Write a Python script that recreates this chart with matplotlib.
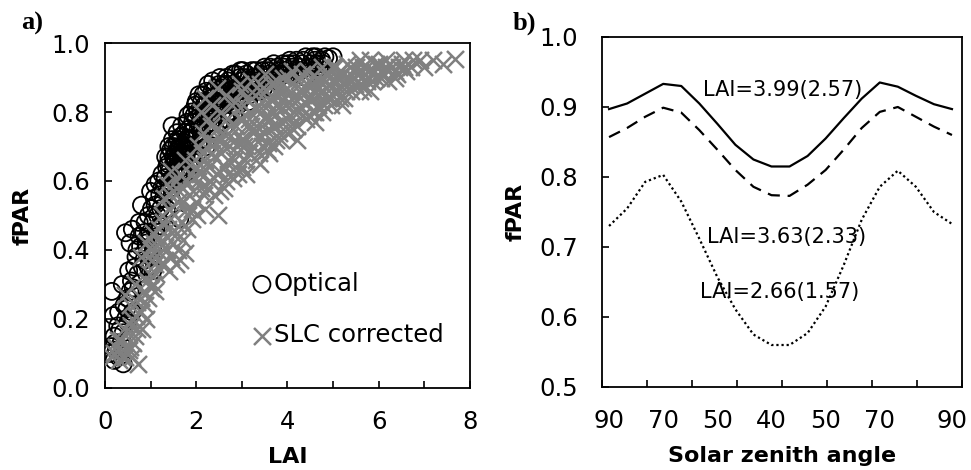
import numpy as np
import matplotlib
matplotlib.use("Agg")
import matplotlib.pyplot as plt

plt.rcParams['font.family'] = ['DejaVu Sans']

# ---- panel a) data (LAI, fPAR) ----
opt_lai = [0.10, 0.15, 0.20, 0.25, 0.30, 0.40, 0.35, 0.20, 0.28, 0.40, 0.15, 0.30, 0.42, 0.38, 0.50,
           0.55, 0.60, 0.45, 0.62, 0.50,
           0.45, 0.55, 0.65, 0.60, 0.70, 0.75, 0.80, 0.85, 0.90, 0.95, 1.00, 1.05, 0.95, 1.00, 1.05,
           1.10, 1.10, 1.15, 1.20, 1.25, 1.20, 0.85, 0.75,
           1.30, 1.35, 1.40, 1.40, 1.45, 1.47, 1.50, 1.50, 1.55, 1.55, 1.60, 1.60, 1.64, 1.65, 1.70,
           1.70, 1.75, 1.80, 1.80, 1.85, 1.90, 1.90, 1.95, 2.00, 2.00, 2.05,
           1.55, 1.62, 1.68, 1.58, 1.72, 1.65,
           2.10, 2.15, 2.20, 2.25, 2.30, 2.35, 2.40, 2.45, 2.50, 2.50, 2.60, 2.60, 2.70, 2.70, 2.80,
           2.80, 2.90, 2.95, 3.00, 3.00,
           3.10, 3.20, 3.25, 3.30, 3.40, 3.50, 3.50, 3.60, 3.70, 3.75, 3.80, 3.90, 4.00, 4.05, 4.10,
           4.20, 4.30, 4.40, 4.50, 4.60, 4.70, 4.90, 4.40, 3.90]
opt_fpar = [0.10, 0.12, 0.08, 0.11, 0.09, 0.07, 0.13, 0.15, 0.18, 0.16, 0.28, 0.22, 0.24, 0.30, 0.26,
            0.28, 0.22, 0.20, 0.29, 0.19,
            0.45, 0.42, 0.35, 0.46, 0.40, 0.48, 0.53, 0.37, 0.42, 0.35, 0.38, 0.34, 0.50, 0.57, 0.48,
            0.53, 0.59, 0.50, 0.56, 0.62, 0.47, 0.45, 0.44,
            0.58, 0.64, 0.60, 0.67, 0.55, 0.76, 0.65, 0.70, 0.62, 0.68, 0.66, 0.72, 0.49, 0.64, 0.70,
            0.67, 0.74, 0.69, 0.77, 0.72, 0.80, 0.66, 0.75, 0.78, 0.83, 0.71,
            0.66, 0.69, 0.63, 0.71, 0.66, 0.68,
            0.80, 0.85, 0.76, 0.83, 0.79, 0.86, 0.81, 0.84, 0.88, 0.77, 0.82, 0.86, 0.89, 0.80, 0.91,
            0.85, 0.87, 0.90, 0.84, 0.89,
            0.91, 0.87, 0.90, 0.92, 0.88, 0.93, 0.90, 0.91, 0.94, 0.89, 0.92, 0.94, 0.91, 0.95, 0.93,
            0.95, 0.92, 0.96, 0.94, 0.95, 0.93, 0.955, 0.90, 0.89]

opt_lai_more = [0.22, 0.33, 0.18, 0.48, 0.58, 0.52, 0.68, 0.72, 0.78, 0.88, 0.92, 0.98, 1.02, 1.08,
                1.12, 1.18, 1.22, 1.28, 1.32, 1.38, 1.42, 1.44, 1.48, 1.52, 1.57, 1.63, 1.67, 1.73,
                1.78, 1.83, 1.87, 1.92, 1.97, 2.03, 2.08, 2.12, 2.18, 2.22, 2.28, 2.33, 2.38, 2.42,
                2.47, 2.53, 2.57, 2.63, 2.67, 2.73, 2.77, 2.83, 2.87, 2.93, 2.97, 3.05, 3.12, 3.18,
                3.22, 3.28, 3.35, 3.38, 3.45, 3.55, 3.62, 3.68, 3.78, 3.85, 3.95, 4.15, 4.25, 4.35,
                4.45, 4.55, 4.65, 4.75, 4.82, 4.15, 3.65, 3.15, 2.65, 2.35, 2.15, 1.95, 1.85, 1.75,
                1.45, 1.35, 1.15, 1.05, 0.95, 0.82,
                1.25, 1.30, 1.38, 1.42, 1.48, 1.52, 1.58, 1.62, 1.68, 1.72, 1.78, 1.82, 1.88, 1.92,
                1.98, 2.02, 2.06, 2.12, 2.18, 2.22, 2.26, 2.32, 2.36, 2.42, 2.46, 2.52, 2.56, 2.62,
                2.66, 2.72, 2.76, 2.82, 2.86, 2.92, 2.96, 3.02, 3.06, 3.14, 3.24, 3.32, 3.42, 3.48,
                3.58, 3.72, 3.82, 3.92, 4.02, 4.22, 4.32, 4.52, 4.62, 4.78, 5.00, 2.10, 2.40, 2.20,
                1.95, 1.75, 1.60, 1.50, 1.40, 1.33, 2.55, 2.75, 3.05]
opt_fpar_more = [0.13, 0.17, 0.21, 0.23, 0.31, 0.34, 0.38, 0.33, 0.41, 0.48, 0.39, 0.45, 0.52, 0.55,
                 0.46, 0.60, 0.52, 0.55, 0.61, 0.57, 0.63, 0.69, 0.61, 0.67, 0.64, 0.70, 0.73, 0.69,
                 0.72, 0.75, 0.70, 0.77, 0.72, 0.80, 0.76, 0.83, 0.79, 0.86, 0.81, 0.84, 0.78, 0.87,
                 0.82, 0.85, 0.80, 0.88, 0.84, 0.86, 0.82, 0.88, 0.84, 0.86, 0.92, 0.87, 0.89, 0.85,
                 0.92, 0.88, 0.90, 0.86, 0.92, 0.89, 0.93, 0.90, 0.93, 0.91, 0.92, 0.94, 0.93, 0.95,
                 0.93, 0.96, 0.94, 0.95, 0.96, 0.91, 0.87, 0.83, 0.78, 0.74, 0.72, 0.68, 0.64, 0.62,
                 0.58, 0.52, 0.44, 0.41, 0.43, 0.35,
                 0.58, 0.50, 0.65, 0.59, 0.72, 0.60, 0.74, 0.62, 0.76, 0.64, 0.67, 0.79, 0.74, 0.70,
                 0.82, 0.68, 0.85, 0.74, 0.82, 0.70, 0.88, 0.77, 0.89, 0.75, 0.80, 0.90, 0.83, 0.76,
                 0.90, 0.83, 0.88, 0.79, 0.91, 0.82, 0.87, 0.92, 0.85, 0.88, 0.86, 0.89, 0.91, 0.87,
                 0.92, 0.91, 0.90, 0.93, 0.94, 0.92, 0.94, 0.93, 0.96, 0.94, 0.96, 0.78, 0.83, 0.80,
                 0.79, 0.71, 0.69, 0.67, 0.70, 0.67, 0.87, 0.80, 0.90]

slc_lai = [0.15, 0.25, 0.30, 0.35, 0.40, 0.45, 0.50, 0.55, 0.60, 0.65, 0.73, 0.70, 0.75, 0.80, 0.85,
           0.90, 0.95, 1.00, 0.55, 0.65, 1.10, 0.45,
           0.80, 0.90, 1.00, 1.05, 1.10, 1.20, 1.25, 1.30, 1.35, 1.40, 1.45, 1.50, 1.55, 1.60, 1.65,
           1.70, 1.75, 1.80, 1.25, 1.30, 1.40, 1.35, 1.50, 1.45, 1.55, 1.60, 1.65, 1.70, 1.75, 1.80,
           1.85, 1.90, 1.95, 2.00,
           2.00, 2.05, 2.10, 2.15, 2.20, 2.20, 2.25, 2.30, 2.30, 2.35, 2.40, 2.40, 2.48, 2.45, 2.50,
           2.55, 2.60, 2.60, 2.65, 2.70, 2.75, 2.80, 2.85, 2.85, 2.90, 2.95, 3.00, 3.00, 2.10, 2.20,
           2.45,
           3.05, 3.10, 3.15, 3.20, 3.20, 3.30, 3.30, 3.35, 3.40, 3.45, 3.50, 3.50, 3.55, 3.60, 3.60,
           3.65, 3.70, 3.75, 3.80, 3.85, 3.90, 3.95, 4.00, 4.00,
           4.05, 4.10, 4.15, 4.20, 4.25, 4.30, 4.35, 4.40, 4.45, 4.50, 4.55, 4.60, 4.65, 4.70, 4.75,
           4.80, 4.85, 4.90, 4.95, 5.00, 4.20, 4.60, 5.20, 5.80, 6.20,
           5.05, 5.10, 5.20, 5.25, 5.30, 5.40, 5.45, 5.50, 5.60, 5.70, 5.80, 5.85, 5.90, 6.00, 6.10,
           6.15, 6.30, 6.40, 6.50, 6.75, 7.19, 7.67, 6.60, 6.20, 5.60]
slc_fpar = [0.09, 0.12, 0.08, 0.14, 0.11, 0.09, 0.16, 0.12, 0.20, 0.15, 0.07, 0.25, 0.18, 0.22, 0.28,
            0.20, 0.26, 0.29, 0.24, 0.30, 0.28, 0.27,
            0.38, 0.42, 0.40, 0.45, 0.36, 0.39, 0.43, 0.36, 0.40, 0.34, 0.38, 0.42, 0.36, 0.40, 0.37,
            0.43, 0.39, 0.46, 0.50, 0.55, 0.52, 0.59, 0.57, 0.63, 0.60, 0.54, 0.62, 0.58, 0.66, 0.52,
            0.56, 0.49, 0.61, 0.54,
            0.64, 0.70, 0.58, 0.74, 0.52, 0.66, 0.78, 0.60, 0.71, 0.82, 0.56, 0.67, 0.50, 0.75, 0.63,
            0.80, 0.58, 0.70, 0.85, 0.66, 0.76, 0.61, 0.72, 0.83, 0.68, 0.88, 0.64, 0.78, 0.80, 0.84,
            0.87,
            0.72, 0.84, 0.68, 0.76, 0.89, 0.66, 0.81, 0.73, 0.86, 0.70, 0.78, 0.91, 0.83, 0.68, 0.75,
            0.88, 0.80, 0.72, 0.85, 0.77, 0.90, 0.82, 0.74, 0.87,
            0.79, 0.92, 0.84, 0.76, 0.89, 0.81, 0.86, 0.78, 0.92, 0.84, 0.88, 0.80, 0.90, 0.85, 0.93,
            0.82, 0.87, 0.91, 0.84, 0.89, 0.72, 0.77, 0.82, 0.86, 0.89,
            0.93, 0.86, 0.91, 0.88, 0.94, 0.86, 0.90, 0.93, 0.88, 0.91, 0.95, 0.89, 0.92, 0.94, 0.91,
            0.95, 0.93, 0.91, 0.94, 0.95, 0.95, 0.955, 0.92, 0.92, 0.95]

slc_lai_more = [0.20, 0.28, 0.38, 0.42, 0.52, 0.58, 0.62, 0.68, 0.78, 0.82, 0.88, 0.92, 0.98, 1.02,
                1.08, 1.12, 1.15, 1.18, 1.22, 1.28, 1.32, 1.38, 1.42, 1.48, 1.52, 1.58, 1.62, 1.68,
                1.72, 1.78, 1.82, 1.88, 1.92, 1.98, 2.02, 2.08, 2.12, 2.18, 2.22, 2.28, 2.32, 2.38,
                2.42, 2.52, 2.55, 2.58, 2.62, 2.68, 2.72, 2.78, 2.82, 2.88, 2.92, 2.98, 3.02, 3.08,
                3.12, 3.18, 3.25, 3.28, 3.32, 3.38, 3.42, 3.48, 3.52, 3.58, 3.62, 3.68, 3.72, 3.78,
                3.82, 3.88, 3.92, 3.98, 4.02, 4.08, 4.12, 4.18, 4.22, 4.28, 4.32, 4.38, 4.42, 4.48,
                4.52, 4.58, 4.62, 4.68, 4.72, 4.78, 4.82, 4.88, 4.92, 4.98, 5.02, 5.08, 5.15, 5.18,
                5.28, 5.35, 5.38, 5.48, 5.52, 5.58, 5.65, 5.75, 5.78, 5.95, 6.05, 6.25, 6.35, 6.45,
                6.55, 6.70, 6.90, 7.00, 7.40,
                2.05, 2.15, 2.25, 2.35, 2.45, 2.55, 2.65, 2.75, 2.85, 2.95, 3.05, 3.15, 3.25, 3.35,
                3.45, 3.55, 3.65, 3.75, 3.85, 3.95, 4.05, 4.15, 4.25, 4.35, 4.45, 4.55, 4.65, 4.75,
                4.85, 4.95, 5.05, 5.15, 5.25, 5.35, 5.45, 5.55, 5.65, 5.75, 5.85, 5.95, 6.05, 6.15,
                6.35, 6.55, 3.10, 3.40, 3.70, 3.00, 3.40, 3.80, 2.70, 2.90, 1.90, 1.60, 1.20, 0.95,
                1.05, 0.70, 0.60]
slc_fpar_more = [0.10, 0.14, 0.09, 0.17, 0.11, 0.18, 0.13, 0.21, 0.26, 0.17, 0.24, 0.31, 0.33, 0.37,
                 0.42, 0.33, 0.40, 0.46, 0.36, 0.48, 0.41, 0.46, 0.56, 0.45, 0.50, 0.45, 0.57, 0.48,
                 0.54, 0.60, 0.50, 0.62, 0.57, 0.66, 0.50, 0.62, 0.68, 0.56, 0.72, 0.64, 0.76, 0.61,
                 0.71, 0.57, 0.68, 0.74, 0.64, 0.78, 0.70, 0.82, 0.66, 0.76, 0.62, 0.72, 0.82, 0.66,
                 0.76, 0.80, 0.70, 0.85, 0.76, 0.68, 0.80, 0.74, 0.86, 0.71, 0.80, 0.84, 0.76, 0.89,
                 0.74, 0.81, 0.86, 0.78, 0.90, 0.82, 0.75, 0.87, 0.80, 0.84, 0.91, 0.83, 0.88, 0.79,
                 0.90, 0.84, 0.87, 0.82, 0.89, 0.86, 0.91, 0.84, 0.88, 0.93, 0.86, 0.90, 0.84, 0.92,
                 0.86, 0.90, 0.93, 0.88, 0.91, 0.86, 0.93, 0.89, 0.92, 0.90, 0.92, 0.94, 0.90, 0.93,
                 0.95, 0.93, 0.95, 0.93, 0.94,
                 0.60, 0.64, 0.58, 0.68, 0.62, 0.72, 0.60, 0.73, 0.64, 0.78, 0.70, 0.78, 0.74, 0.82,
                 0.76, 0.69, 0.78, 0.82, 0.72, 0.84, 0.76, 0.80, 0.86, 0.79, 0.84, 0.80, 0.85, 0.80,
                 0.89, 0.82, 0.88, 0.90, 0.84, 0.88, 0.92, 0.89, 0.87, 0.93, 0.91, 0.94, 0.90, 0.93,
                 0.92, 0.93, 0.62, 0.65, 0.70, 0.86, 0.88, 0.87, 0.62, 0.70, 0.52, 0.47, 0.42, 0.38,
                 0.30, 0.17, 0.09]

# ---- panel b) data: fPAR through the day ----
sza_labels = ['90', '70', '50', '40', '50', '70', '90']
sza_label_pos = [0, 3, 6, 9, 12, 15, 19]
step = np.arange(20)
fpar_399 = [0.897, 0.905, 0.919, 0.933, 0.930, 0.905, 0.876, 0.846, 0.825, 0.815,
            0.815, 0.830, 0.855, 0.884, 0.912, 0.935, 0.929, 0.916, 0.904, 0.897]
fpar_363 = [0.857, 0.870, 0.886, 0.899, 0.892, 0.867, 0.839, 0.810, 0.786, 0.774,
            0.773, 0.789, 0.810, 0.839, 0.870, 0.893, 0.900, 0.886, 0.872, 0.860]
fpar_266 = [0.730, 0.755, 0.793, 0.803, 0.765, 0.712, 0.657, 0.611, 0.575, 0.560,
            0.560, 0.577, 0.615, 0.674, 0.739, 0.786, 0.809, 0.786, 0.750, 0.733]

fig = plt.figure(figsize=(9.71, 4.70), dpi=100)
ax1 = fig.add_axes([0.1081, 0.1745, 0.3759, 0.734])
ax2 = fig.add_axes([0.6200, 0.1766, 0.3708, 0.7447])

tfs = 17.5

# a)
ax1.scatter(opt_lai + opt_lai_more, opt_fpar + opt_fpar_more, s=150, facecolors='none',
            edgecolors='black', linewidths=1.3, label='Optical', zorder=2)
ax1.scatter(slc_lai + slc_lai_more, slc_fpar + slc_fpar_more, s=150, marker='x', color='#808080',
            linewidths=1.8, label='SLC corrected', zorder=3)
ax1.set_xlim(0, 8)
ax1.set_ylim(0, 1)
ax1.set_xticks([0, 2, 4, 6, 8])
ax1.set_xticks([1, 3, 5, 7], minor=True)
ax1.set_yticks([0, 0.2, 0.4, 0.6, 0.8, 1.0])
ax1.set_yticklabels(['0.0', '0.2', '0.4', '0.6', '0.8', '1.0'])
ax1.tick_params(axis='x', which='both', direction='in', length=5, width=1.2, pad=16, labelsize=tfs)
ax1.tick_params(axis='y', direction='in', length=5, width=1.2, pad=11, labelsize=tfs)
ax1.set_xlabel('LAI', fontsize=16, fontweight='bold')
ax1.set_ylabel('fPAR', fontsize=16, fontweight='bold')
ax1.xaxis.set_label_coords(0.5, -0.17)
ax1.yaxis.set_label_coords(-0.197, 0.5)
leg = ax1.legend(loc='upper left', bbox_to_anchor=(0.41, 0.337), frameon=False, fontsize=tfs,
                 handlelength=0.6, handletextpad=0.2, labelspacing=1.12, borderpad=0, borderaxespad=0)
fig.text(0.022, 0.95, 'a)', family='Liberation Serif', fontweight='bold', fontsize=19, va='center')

# b)
ax2.plot(step, fpar_399, color='black', lw=1.6, ls='-')
ax2.plot(step, fpar_363, color='black', lw=1.6, ls=(0, (5.5, 3.5)))
ax2.plot(step, fpar_266, color='black', lw=1.6, ls=(0, (1, 1.3)))
ax2.set_xlim(-0.39, 19.56)
ax2.set_ylim(0.5, 1.0)
ax2.set_xticks(sza_label_pos)
ax2.set_xticklabels(sza_labels)
ax2.set_xticks(np.linspace(-0.39, 19.56, 9), minor=True)
ax2.set_yticks([0.5, 0.6, 0.7, 0.8, 0.9, 1.0])
ax2.set_yticklabels(['0.5', '0.6', '0.7', '0.8', '0.9', '1.0'])
ax2.tick_params(axis='x', which='major', length=0, pad=16, labelsize=tfs)
ax2.tick_params(axis='x', which='minor', direction='in', length=5, width=1.2)
ax2.tick_params(axis='y', direction='in', length=5, width=1.2, pad=17, labelsize=tfs)
ax2.set_xlabel('Solar zenith angle', fontsize=16, fontweight='bold')
ax2.set_ylabel('fPAR', fontsize=16, fontweight='bold')
ax2.xaxis.set_label_coords(0.5, -0.17)
ax2.yaxis.set_label_coords(-0.211, 0.5)
ax2.text(9.64, 0.924, 'LAI=3.99(2.57)', fontsize=15, ha='center', va='center')
ax2.text(9.86, 0.714, 'LAI=3.63(2.33)', fontsize=15, ha='center', va='center')
ax2.text(9.47, 0.636, 'LAI=2.66(1.57)', fontsize=15, ha='center', va='center')
fig.text(0.528, 0.95, 'b)', family='Liberation Serif', fontweight='bold', fontsize=19, va='center')

for ax in (ax1, ax2):
    for sp in ax.spines.values():
        sp.set_linewidth(1.3)

fig.savefig('out.png', dpi=100)
